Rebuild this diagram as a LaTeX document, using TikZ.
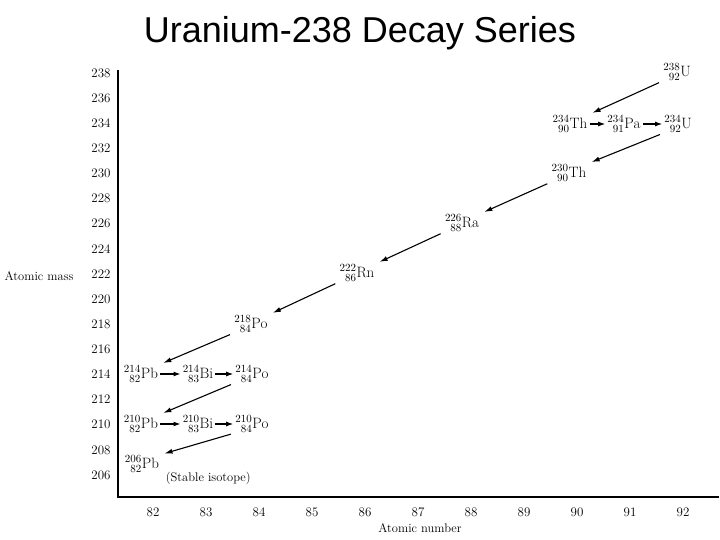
\documentclass[tikz,border=0pt]{standalone}
\usepackage{fontspec}
\usepackage{mathtools}
\newfontfamily\titlefont{Liberation Sans}
\usetikzlibrary{arrows.meta}
\usetikzlibrary{positioning}

\newcommand{\nucl}[3]{$\prescript{#1}{#2}{\mathrm{#3}}$}

\begin{document}
\begin{tikzpicture}[x=1pt, y=-1pt,
    nuclide/.style={inner sep=0.5pt, font=\fontsize{15}{17}\selectfont},
    ticklabel/.style={inner sep=0pt, font=\fontsize{13}{15}\selectfont},
    axislabel/.style={inner sep=0pt, font=\fontsize{12.5}{15}\selectfont},
    alphadecay/.style={-{Latex[length=8pt,width=5pt]}, line width=1.1pt, shorten <=4pt, shorten >=5pt},
    betadecay/.style={-{Latex[length=7pt,width=5pt]}, line width=1.1pt, shorten <=1.5pt, shorten >=1.5pt}]
    \useasboundingbox (0,0) rectangle (720,540);

    \node [font=\titlefont\fontsize{36}{40}\selectfont, inner sep=0pt] (title) at (360,33) {Uranium-238 Decay Series};

    % axes
    \coordinate (ytop) at (118,70);
    \coordinate (origin) at (118,497);
    \coordinate (xend) at (719,497);
    \draw [line width=1.3pt] (ytop) -- (origin) -- (xend);

    \foreach \m in {206,208,...,238}
        \node [ticklabel] (ym\m) at (101, {475-(\m-206)*12.56}) {\m};
    \foreach \z in {82,...,92}
        \node [ticklabel] (xz\z) at ({153+(\z-82)*53}, 512) {\z};
    \node [axislabel] (ylabel) at (39,276) {Atomic mass};
    \node [axislabel] (xlabel) at (420,528) {Atomic number};

    % nuclides
    \node [nuclide] (u238) at (677,72) {\nucl{238}{92}{U}};
    \node [nuclide] (th234) at (570,124) {\nucl{234}{90}{Th}};
    \node [nuclide] (pa234) at (624,124) {\nucl{234}{91}{Pa}};
    \node [nuclide] (u234) at (678,124) {\nucl{234}{92}{U}};
    \node [nuclide] (th230) at (569,173) {\nucl{230}{90}{Th}};
    \node [nuclide] (ra226) at (462,223) {\nucl{226}{88}{Ra}};
    \node [nuclide] (rn222) at (357,273) {\nucl{222}{86}{Rn}};
    \node [nuclide] (po218) at (251,324) {\nucl{218}{84}{Po}};
    \node [nuclide] (pb214) at (141,374) {\nucl{214}{82}{Pb}};
    \node [nuclide] (bi214) at (198,374) {\nucl{214}{83}{Bi}};
    \node [nuclide] (po214) at (252,374) {\nucl{214}{84}{Po}};
    \node [nuclide] (pb210) at (141,424) {\nucl{210}{82}{Pb}};
    \node [nuclide] (bi210) at (198,424) {\nucl{210}{83}{Bi}};
    \node [nuclide] (po210) at (252,424) {\nucl{210}{84}{Po}};
    \node [nuclide] (pb206) at (142,464) {\nucl{206}{82}{Pb}};
    \node [axislabel, right=6pt of pb206.south east, yshift=-5pt] (stable) {(Stable isotope)};

    % alpha decays
    \draw [alphadecay] (u238.south west) -- (th234.north east);
    \draw [alphadecay] (u234.south west) -- (th230.north east);
    \draw [alphadecay] (th230.south west) -- (ra226.north east);
    \draw [alphadecay] (ra226.south west) -- (rn222.north east);
    \draw [alphadecay] (rn222.south west) -- (po218.north east);
    \draw [alphadecay] (po218.south west) -- (pb214.north east);
    \draw [alphadecay] (po214.south west) -- (pb210.north east);
    \draw [alphadecay] (po210.south west) -- (pb206.north east);

    % beta decays
    \draw [betadecay] (th234) -- (pa234);
    \draw [betadecay] (pa234) -- (u234);
    \draw [betadecay] (pb214) -- (bi214);
    \draw [betadecay] (bi214) -- (po214);
    \draw [betadecay] (pb210) -- (bi210);
    \draw [betadecay] (bi210) -- (po210);
\end{tikzpicture}
\end{document}
